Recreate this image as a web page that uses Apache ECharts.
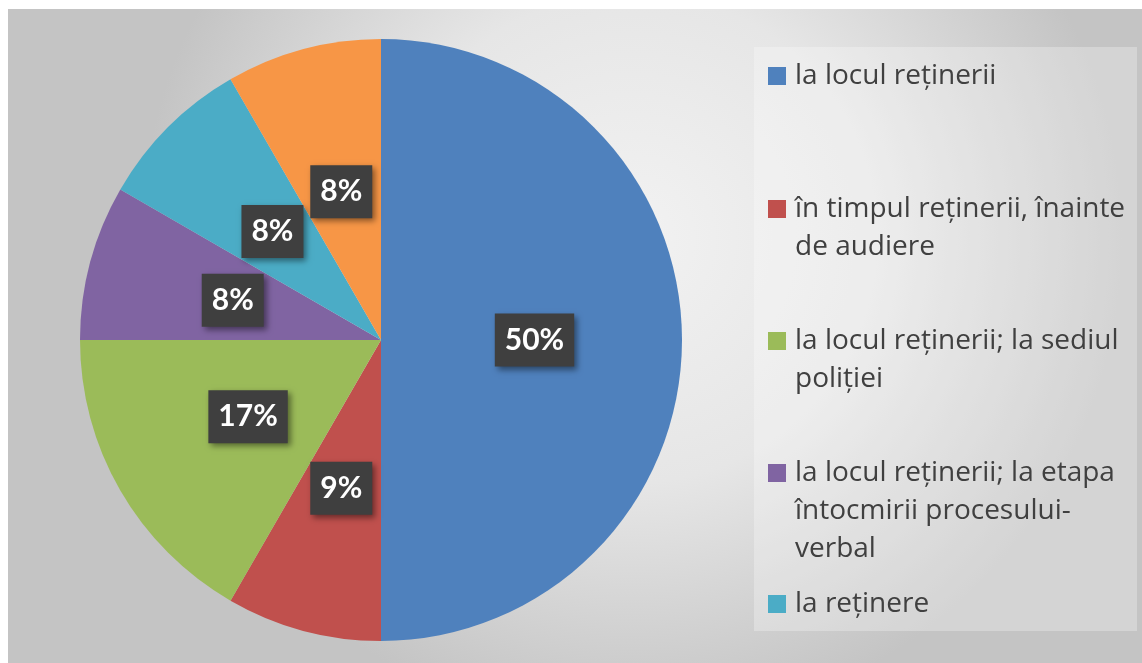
<!DOCTYPE html>
<html>
<head>
<meta charset="utf-8">
<script src="https://cdn.jsdelivr.net/npm/echarts@6/dist/echarts.min.js"></script>
<style>
html,body{margin:0;padding:0;background:#fff;}
#chart{width:1142px;height:663px;}
</style>
</head>
<body>
<div id="chart"></div>
<script>
const categories = [
  'la locul reținerii',
  'în timpul reținerii, înainte de audiere',
  'la locul reținerii; la sediul poliției',
  'la locul reținerii; la etapa întocmirii procesului-verbal',
  'la reținere',
  'altele'
];
const legendLines = [
  ['la locul reținerii'],
  ['în timpul reținerii, înainte', 'de audiere'],
  ['la locul reținerii; la sediul', 'poliției'],
  ['la locul reținerii; la etapa', 'întocmirii procesului-', 'verbal'],
  ['la reținere']
];
const counts = [6, 1, 2, 1, 1, 1];
const percentLabels = ['50%', '9%', '17%', '8%', '8%', '8%'];
const colors = ['#4F81BD', '#C0504D', '#9BBB59', '#8064A2', '#4BACC6', '#F79646'];

const legendCenters = [76, 209, 341, 473, 604];
const LH = 38;

const chart = echarts.init(document.getElementById('chart'), null, {renderer: 'canvas'});

const legends = legendLines.map((lines, i) => {
  const text = lines.map((l, k) =>
    (k === 0 ? '{sq|}' : '{ind|}') + '{gap|}{t|' + l + '}'
  ).join('\n');
  return {
    show: true,
    orient: 'vertical',
    left: 763,
    top: legendCenters[i] - LH / 2,
    padding: 0,
    itemWidth: 0,
    itemHeight: 18,
    itemGap: 0,
    selectedMode: false,
    icon: 'none',
    data: [categories[i]],
    formatter: () => text,
    textStyle: {
      fontFamily: 'Open Sans',
      fontSize: 28,
      color: '#404040',
      lineHeight: LH,
      rich: {
        sq: {width: 18, height: 18, backgroundColor: colors[i], lineHeight: LH},
        ind: {width: 18, height: 18, lineHeight: LH},
        gap: {width: 9, lineHeight: LH},
        t: {fontFamily: 'Open Sans', fontSize: 28, color: '#404040', lineHeight: LH}
      }
    }
  };
});

chart.setOption({
  animation: false,
  backgroundColor: '#ffffff',
  graphic: [
    {
      type: 'rect', z: -10, silent: true,
      shape: {x: 8, y: 9, width: 1134, height: 654},
      style: {
        fill: new echarts.graphic.RadialGradient(0.55, 0.35, 0.75, [
          {offset: 0, color: '#f2f2f2'},
          {offset: 0.5, color: '#e6e6e6'},
          {offset: 1, color: '#c4c4c4'}
        ])
      }
    },
    {
      type: 'rect', z: -9, silent: true,
      shape: {x: 754, y: 47, width: 383, height: 584},
      style: {fill: 'rgba(255,255,255,0.28)'}
    }
  ],
  color: colors,
  legend: legends,
  series: [{
    type: 'pie',
    center: [381, 340],
    radius: 301,
    startAngle: 90,
    clockwise: true,
    avoidLabelOverlap: false,
    data: categories.map((c, i) => ({name: c, value: counts[i]})),
    itemStyle: {borderWidth: 0},
    label: {
      show: true,
      position: 'inside',
      formatter: p => percentLabels[p.dataIndex],
      fontFamily: 'Lato',
      fontWeight: 'bold',
      fontSize: 30,
      color: '#ffffff',
      lineHeight: 36,
      backgroundColor: '#3f3f3f',
      padding: [9, 10, 8, 10],
      shadowColor: 'rgba(0,0,0,0.45)',
      shadowBlur: 6,
      shadowOffsetX: 3,
      shadowOffsetY: 3
    },
    labelLine: {show: false},
    emphasis: {disabled: true}
  }]
});
</script>
</body>
</html>
